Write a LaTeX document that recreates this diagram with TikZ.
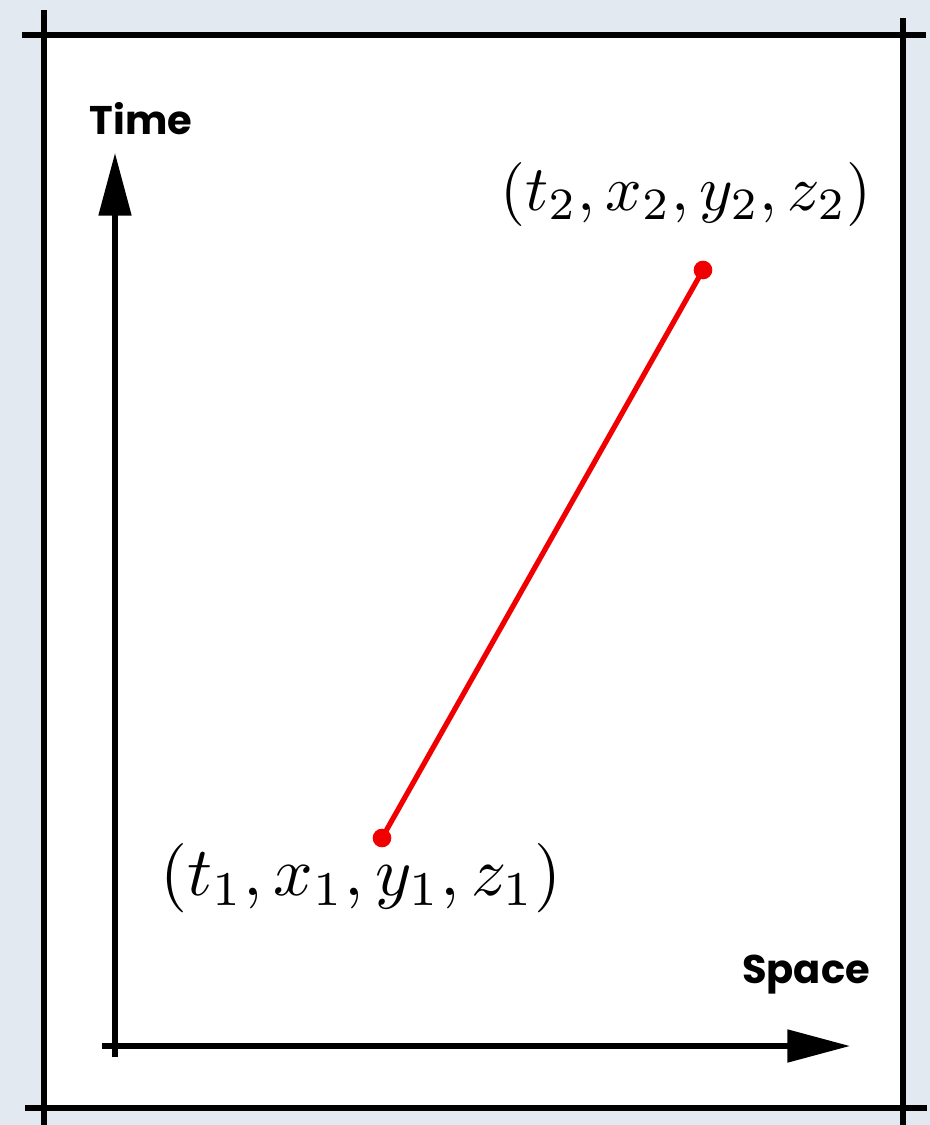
\documentclass[tikz,border=0pt]{standalone}
\usepackage{fontspec}
\newfontfamily\labelfont{Poppins}
\usetikzlibrary{arrows.meta}
\definecolor{paper}{RGB}{226,233,241}
\definecolor{dotred}{RGB}{240,0,0}
\tikzset{
  frameline/.style={line width=3.8pt, black},
  axisline/.style={line width=3.8pt, black, -{Triangle[length=47pt,width=24pt]}},
  event/.style={circle, fill=dotred, inner sep=0pt, minimum size=14pt},
  worldline/.style={line width=3.9pt, dotred},
  axislabel/.style={font=\labelfont\bfseries\fontsize{30}{36}\selectfont},
  coordlabel/.style={inner sep=0pt, font=\fontsize{10}{12}\selectfont},
}
\begin{document}
\begin{tikzpicture}[x=0.75pt,y=-0.75pt]
\fill[paper] (0,0) rectangle (930,1125);
\useasboundingbox (0,0) rectangle (930,1125);
\fill[white] (44,35) rectangle (903,1108);
% frame lines with overhangs
\coordinate (tl) at (22,35); \coordinate (tr) at (926,35);
\coordinate (bl) at (25,1108); \coordinate (br) at (927,1108);
\coordinate (lt) at (44,10); \coordinate (lb) at (44,1125);
\coordinate (rt) at (903,18); \coordinate (rb) at (903,1125);
\draw[frameline] (tl) -- (tr);
\draw[frameline] (bl) -- (br);
\draw[frameline] (lt) -- (lb);
\draw[frameline] (rt) -- (rb);
% axes
\coordinate (tbot) at (115,1057); \coordinate (ttop) at (115,153);
\coordinate (sleft) at (102,1046); \coordinate (sright) at (850,1046);
\draw[axisline] (tbot) -- (ttop);
\draw[axisline] (sleft) -- (sright);
\node[axislabel] (time) at (141,119) {Time};
\node[axislabel] (space) at (806,975) {Space};
% events
\node[event] (p1) at (382,838) {};
\node[event] (p2) at (703,270) {};
\draw[worldline] (p1.center) -- (p2.center);
\node[coordlabel, scale=4.8] (l2) at (686,194) {$(t_2,x_2,y_2,z_2)$};
\node[coordlabel, scale=5.2] (l1) at (361,878) {$(t_1,x_1,y_1,z_1)$};
\end{tikzpicture}
\end{document}
